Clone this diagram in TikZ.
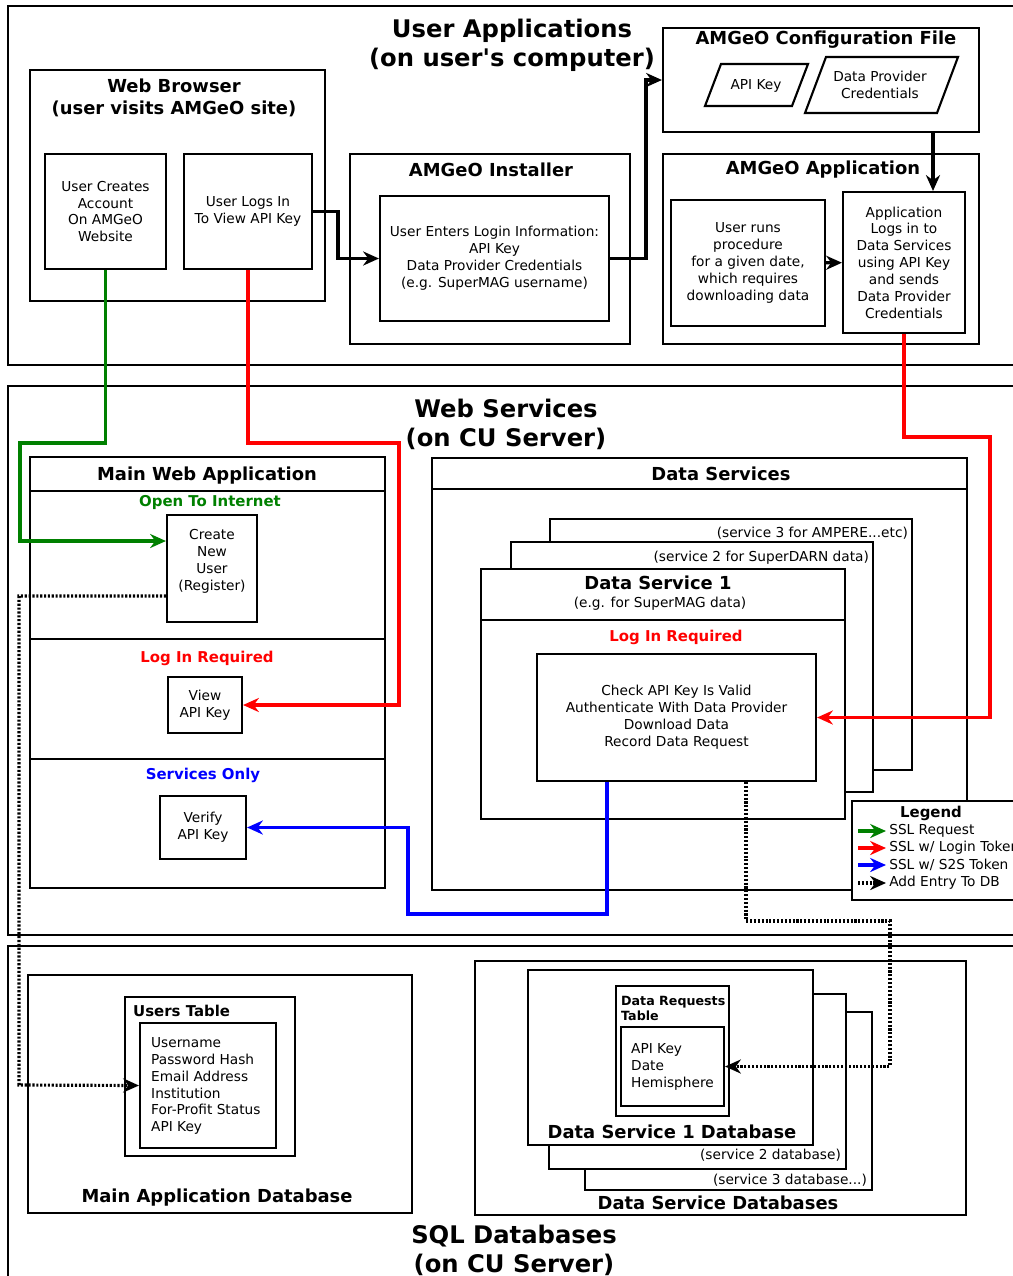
\documentclass[tikz,border=0pt]{standalone}
\usepackage{fontspec}
\setmainfont{DejaVu Sans}
\usetikzlibrary{arrows.meta,fit,calc}
\definecolor{sslgreen}{RGB}{0,128,0}
\tikzset{
  box/.style={draw, line width=1.2pt, inner sep=0pt, fill=white, fit={#1}},
  conn/.style={line width=1.8pt, -{Stealth[length=9pt,width=8pt]}},
  dots/.style={conn, dash pattern=on 1.2pt off 1pt},
  sect/.style={font=\fontsize{13.8}{16.6}\selectfont\bfseries, align=center},
  ttl/.style={font=\fontsize{10.2}{12.5}\selectfont\bfseries, align=center},
  txt/.style={font=\fontsize{7.8}{9.6}\selectfont, align=center},
  intext/.style={label={[txt]center:{#1}}},
  tag/.style={font=\fontsize{8.5}{10}\selectfont\bfseries},
}
\begin{document}
\begin{tikzpicture}[x=0.02cm, y=-0.02cm]
    \useasboundingbox (0,0) rectangle (1013,1276);
    \draw[line width=1.1pt] (8,6) rectangle (1030,365);
    \draw[line width=1.1pt] (8,386) rectangle (1030,935);
    \draw[line width=1.1pt] (8,946) rectangle (1030,1300);

    \node[sect] (appsttl) at (512,45) {User Applications\\(on user\textquotesingle s computer)};
    \node[box={(30,70) (325,301)}] (browser) {};
    \node[ttl] (browserttl) at (174,98) {Web Browser\\(user visits AMGeO site)};
    \node[box={(45,154) (166,269)}, intext={User Creates\\Account\\On AMGeO\\Website}] (signup) {};
    \node[box={(184,154) (312,269)}, intext={User Logs In\\To View API Key}] (login) {};
    \node[box={(350,154) (630,344)}] (installer) {};
    \node[ttl] (instttl) at (491,170) {AMGeO Installer};
    \node[box={(380,196) (609,321)}, intext={User Enters Login Information:\\API Key\\Data Provider Credentials\\(e.g. SuperMAG username)}] (creds) {};
    \node[box={(663,28) (979,132)}] (config) {};
    \node[ttl] (configttl) at (826,40) {AMGeO Configuration File};
    \draw[line width=1.2pt] (705,106) -- (721,64) -- (808,64) -- (792,106) -- cycle;
    \node[txt] (keyfile) at (756,86) {API Key};
    \draw[line width=1.2pt] (805,113) -- (826,57) -- (958,57) -- (937,113) -- cycle;
    \node[txt] (credfile) at (880,85) {Data Provider\\Credentials};
    \node[box={(663,154) (979,344)}] (amgeo) {};
    \node[ttl] (amgeottl) at (823,170) {AMGeO Application};
    \node[box={(671,200) (825,326)}, intext={User runs\\procedure\\for a given date,\\which requires\\downloading data}] (runproc) {};
    \node[box={(843,192) (965,333)}, intext={Application\\Logs in to\\Data Services\\using API Key\\and sends\\Data Provider\\Credentials}] (applogin) {};

    \node[sect] (websttl) at (506,424) {Web Services\\(on CU Server)};
    \node[box={(30,457) (385,888)}] (mainweb) {};
    \draw[line width=1.2pt] (30,491) -- (385,491) (30,639) -- (385,639) (30,759) -- (385,759);
    \node[ttl] (mainwebttl) at (207,476) {Main Web Application};
    \node[tag, text=sslgreen] (opentag) at (210,503) {Open To Internet};
    \node[box={(167,515) (257,622)}, intext={Create\\New\\User\\(Register)\\~}] (register) {};
    \node[tag, text=red] (logintag) at (207,658) {Log In Required};
    \node[box={(168,677) (242,733)}, intext={View\\API Key}] (viewkey) {};
    \node[tag, text=blue] (svctag) at (203,775) {Services Only};
    \node[box={(160,796) (246,859)}, intext={Verify\\API Key}] (verify) {};

    \node[box={(432,458) (967,890)}] (dataserv) {};
    \draw[line width=1.2pt] (432,489) -- (967,489);
    \node[ttl] (datasrvttl) at (721,474) {Data Services};
    \node[box={(550,519) (912,770)}] (serv3) {};
    \node[txt, anchor=east, inner sep=1pt] (serv3lbl) at (910,533) {(service 3 for AMPERE...etc)};
    \node[box={(511,542) (873,792)}] (serv2) {};
    \node[txt, anchor=east, inner sep=1pt] (serv2lbl) at (871,558) {(service 2 for SuperDARN data)};
    \node[box={(481,569) (845,819)}] (serv1) {};
    \draw[line width=1.2pt] (481,620) -- (845,620);
    \node[ttl] (serv1ttl) at (658,583) {Data Service 1};
    \node[txt] (serv1sub) at (660,604) {(e.g. for SuperMAG data)};
    \node[tag, text=red] (servtag) at (676,637) {Log In Required};
    \node[box={(537,654) (816,781)}, intext={Check API Key Is Valid\\Authenticate With Data Provider\\Download Data\\Record Data Request}] (check) {};

    \node[box={(852,801) (1030,900)}] (legend) {};
    \node[tag] (legendttl) at (931,813) {Legend};
    \foreach \c/\t [count=\i] in {sslgreen/SSL Request, red/{SSL w/ Login Token}, blue/{SSL w/ S2S Token}}
        \draw[conn, \c] (858,814+17*\i) -- (886,814+17*\i) node[txt, anchor=west, inner sep=1pt, text=black] {\t};
    \draw[dots] (858,883) -- (886,883) node[txt, anchor=west, inner sep=1pt] {Add Entry To DB};

    \node[sect] (sqlttl) at (514,1250) {SQL Databases\\(on CU Server)};
    \node[box={(28,975) (412,1213)}] (maindb) {};
    \node[ttl] (maindbttl) at (217,1198) {Main Application Database};
    \node[box={(125,997) (295,1156)}] (users) {};
    \node[tag, anchor=west] (usersttl) at (127,1011) {Users Table};
    \node[box={(140,1023) (276,1148)}] (userfields) {};
    \node[txt, align=left, anchor=west] (userlist) at (145,1086) {Username\\Password Hash\\Email Address\\Institution\\For-Profit Status\\API Key};
    \node[box={(475,961) (966,1215)}] (dsdb) {};
    \node[ttl] (dsdbttl) at (718,1203) {Data Service Databases};
    \node[box={(585,1012) (872,1190)}] (db3) {};
    \node[txt, anchor=east, inner sep=1pt] (db3lbl) at (869,1180) {(service 3 database...)};
    \node[box={(549,994) (846,1169)}] (db2) {};
    \node[txt, anchor=east, inner sep=1pt] (db2lbl) at (843,1155) {(service 2 database)};
    \node[box={(528,970) (813,1145)}] (db1) {};
    \node[ttl] (db1ttl) at (672,1132) {Data Service 1 Database};
    \node[box={(616,986) (729,1116)}] (reqs) {};
    \node[font=\fontsize{7.2}{8.8}\selectfont\bfseries, align=left, anchor=north west] (reqsttl) at (615,990) {Data Requests\\Table};
    \node[box={(621,1027) (724,1106)}] (reqfields) {};
    \node[txt, align=left, anchor=west] (reqlist) at (625,1067) {API Key\\Date\\Hemisphere};

    \draw[conn] (login.east) -- ++(25,0) |- (creds.west);
    \draw[conn] (creds.east) -- ++(36,0) |- (config.west);
    \coordinate (cfgout) at (933,132);
    \draw[conn] (cfgout) -- (cfgout |- applogin.north);
    \draw[conn] (runproc) -- (applogin);
    \draw[conn, sslgreen] (signup.south) |- (20,443) |- ([yshift=0.55cm]register.west);
    \draw[conn, red] (login.south) |- (399,443) |- (viewkey.east);
    \draw[conn, red] (applogin.south) |- (990,437) |- (check.east);
    \draw[conn, blue] ([xshift=-1.39cm]check.south) |- (408,914) |- (verify.east);
    \draw[dots] ([yshift=-0.55cm]register.west) -| (19,1085) -- (userfields.west);
    \draw[dots] ([xshift=1.39cm]check.south) |- (890,921) |- (reqfields.east);
\end{tikzpicture}
\end{document}
